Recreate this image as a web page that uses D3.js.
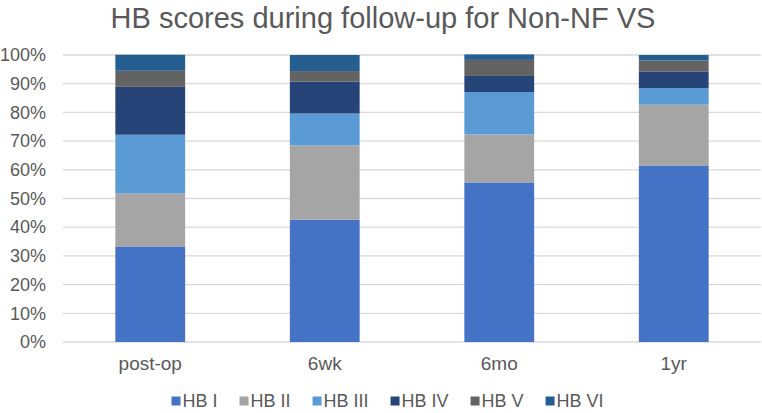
<!DOCTYPE html>
<html>
<head>
<meta charset="utf-8">
<script src="https://cdn.jsdelivr.net/npm/d3@7"></script>
<style>
  body { margin: 0; background: #fff; }
  text { font-family: "Liberation Sans", Arial, sans-serif; fill: #595959; }
</style>
</head>
<body>
<svg id="chart" width="762" height="413"></svg>
<script>
const categories = ["post-op", "6wk", "6mo", "1yr"];
const seriesNames = ["HB I", "HB II", "HB III", "HB IV", "HB V", "HB VI"];
const colors = ["#4472C4", "#A5A5A5", "#5B9BD5", "#264478", "#636363", "#255E91"];

// percentages per category, HB I .. HB VI
const postOp = [33.3, 18.5, 20.4, 16.7, 5.6, 5.6];
const sixWk = [42.6, 25.9, 11.1, 11.1, 3.7, 5.6];
const sixMo = [55.6, 16.7, 14.8, 5.6, 5.6, 1.9];
const oneYr = [61.5, 21.2, 5.8, 5.8, 3.8, 1.9];

const yTicks = [0, 10, 20, 30, 40, 50, 60, 70, 80, 90, 100];

const rows = [postOp, sixWk, sixMo, oneYr].map((vals, i) => {
  const r = { cat: categories[i] };
  seriesNames.forEach((s, j) => (r[s] = vals[j]));
  return r;
});

const svg = d3.select("#chart");
const margin = { left: 63, right: 1, top: 55, bottom: 71 };
const W = 762, H = 413;
const font = '"Liberation Sans", Arial, sans-serif';

const x = d3.scaleBand()
  .domain(categories)
  .range([margin.left, W - margin.right])
  .paddingInner(0.6)
  .paddingOuter(0.3);

const y = d3.scaleLinear()
  .domain([0, 100])
  .range([H - margin.bottom, margin.top]);

// gridlines
svg.append("g")
  .selectAll("line")
  .data(yTicks)
  .enter()
  .append("line")
  .attr("x1", margin.left)
  .attr("x2", W - margin.right)
  .attr("y1", d => y(d))
  .attr("y2", d => y(d))
  .attr("stroke", "#D9D9D9")
  .attr("stroke-width", 1.3);

// y axis labels
const yAxis = svg.append("g")
  .attr("transform", `translate(${margin.left - 17},0)`)
  .call(d3.axisLeft(y).tickValues(yTicks).tickFormat(d => d + "%").tickSize(0).tickPadding(0));
yAxis.select(".domain").remove();
yAxis.selectAll("text")
  .attr("font-size", 18)
  .style("font-family", font)
  .attr("fill", "#595959");

// stacked bars
const stack = d3.stack().keys(seriesNames);
const layers = stack(rows);

svg.append("g")
  .selectAll("g")
  .data(layers)
  .enter()
  .append("g")
  .attr("fill", (d, i) => colors[i])
  .selectAll("rect")
  .data(d => d)
  .enter()
  .append("rect")
  .attr("x", d => x(d.data.cat))
  .attr("width", x.bandwidth())
  .attr("y", d => y(d[1]))
  .attr("height", d => y(d[0]) - y(d[1]));

// x axis labels
const xAxis = svg.append("g")
  .attr("transform", `translate(0,${H - margin.bottom})`)
  .call(d3.axisBottom(x).tickSize(0).tickPadding(14.5));
xAxis.select(".domain").remove();
xAxis.selectAll("text")
  .attr("font-size", 19)
  .style("font-family", font)
  .attr("fill", "#595959");

// title
svg.append("text")
  .attr("x", 383)
  .attr("y", 28)
  .attr("text-anchor", "middle")
  .attr("font-size", 29)
  .text("HB scores during follow-up for Non-NF VS");

// legend: swatch + label, laid out left to right
const legend = svg.append("g");
let lx = 171.5;
seriesNames.forEach((name, i) => {
  const g = legend.append("g").attr("transform", `translate(${lx},407)`);
  g.append("rect")
    .attr("x", 0)
    .attr("y", -10.5)
    .attr("width", 9)
    .attr("height", 9)
    .attr("fill", colors[i]);
  const t = g.append("text")
    .attr("x", 11)
    .attr("y", 0)
    .attr("font-size", 18)
    .text(name);
  lx += 11 + t.node().getComputedTextLength() + 22;
});
</script>
</body>
</html>
